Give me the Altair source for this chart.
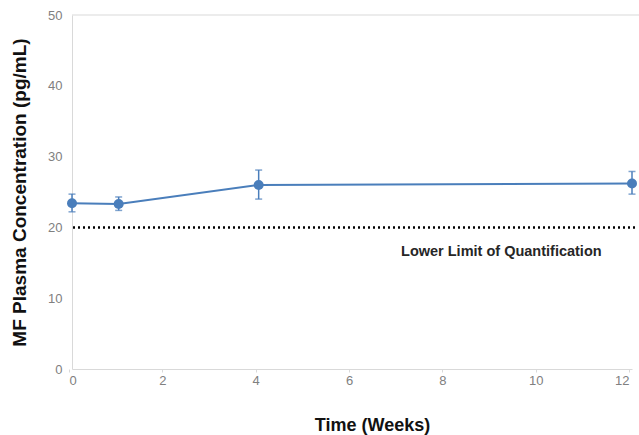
import altair as alt
import pandas as pd

weeks = [0, 1, 4, 12]
conc = [23.4, 23.3, 26.0, 26.2]
err_hi = [24.7, 24.3, 28.1, 27.9]
err_lo = [22.2, 22.4, 24.0, 24.7]
lloq = 20
lloq_label = "Lower Limit of Quantification"
label_week = 9.2
label_y = 16.5

df = pd.DataFrame({"week": weeks, "conc": conc, "hi": err_hi, "lo": err_lo})
ref = pd.DataFrame({"y": [lloq]})
lab = pd.DataFrame({"x": [label_week], "y": [label_y], "t": [lloq_label]})

blue = "#4a7ebb"
xs = alt.Scale(domain=[0, 12], nice=False)
ys = alt.Scale(domain=[0, 50], nice=False)

x_axis = alt.Axis(title="Time (Weeks)", values=[0, 2, 4, 6, 8, 10, 12], grid=False,
                  domainColor="#d9d9d9", tickColor="#d9d9d9", tickSize=3, tickOffset=-3,
                  labelColor="#808080", labelFontSize=13, labelFont="Liberation Sans",
                  labelPadding=2, titleFont="Liberation Sans", titleFontSize=18,
                  titleFontWeight="bold", titleColor="#111111", titlePadding=29, titleX=300)
y_axis = alt.Axis(title="MF Plasma Concentration (pg/mL)", values=[0, 10, 20, 30, 40, 50],
                  grid=False, domainColor="#d9d9d9", ticks=False,
                  labelColor="#808080", labelFontSize=13, labelFont="Liberation Sans",
                  labelPadding=10, titleFont="Liberation Sans", titleFontSize=19,
                  titleFontWeight="bold", titleColor="#111111", titlePadding=18)

base = alt.Chart(df)

line = base.mark_line(color=blue, strokeWidth=2).encode(
    x=alt.X("week:Q", scale=xs, axis=x_axis),
    y=alt.Y("conc:Q", scale=ys, axis=y_axis),
)
bars = base.mark_rule(color=blue, strokeWidth=1.5).encode(
    x="week:Q", y="lo:Q", y2="hi:Q")
caps_hi = base.mark_tick(color=blue, thickness=1.5, size=7, orient="horizontal").encode(
    x="week:Q", y="hi:Q")
caps_lo = base.mark_tick(color=blue, thickness=1.5, size=7, orient="horizontal").encode(
    x="week:Q", y="lo:Q")
pts = base.mark_circle(color=blue, size=100, opacity=1).encode(x="week:Q", y="conc:Q")

rule = alt.Chart(ref).mark_rule(color="#000000", strokeWidth=2.5, strokeDash=[2, 3]).encode(
    x=alt.value(1), x2=alt.value(566), y="y:Q")
txt = alt.Chart(lab).mark_text(font="Liberation Sans", fontSize=14.5, fontWeight="bold",
                               color="#262626").encode(x="x:Q", y="y:Q", text="t:N")

top = alt.Chart(ref).mark_rule(color="#d9d9d9", strokeWidth=1).encode(
    x=alt.value(0), x2=alt.value(567), y=alt.value(0))

chart = alt.layer(top, rule, bars, caps_hi, caps_lo, line, pts, txt).properties(
    width=560, height=354,
    autosize=alt.AutoSizeParams(type="none"),
    padding={"left": 72, "top": 15, "right": 7, "bottom": 66},
).configure_view(stroke=None)

chart.save("out.html", embed_options={"renderer": "svg", "actions": False})
